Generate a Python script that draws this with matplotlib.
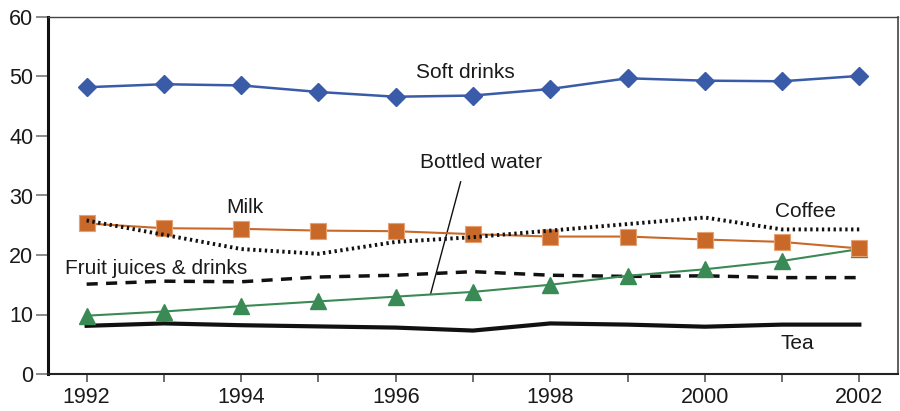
import matplotlib
matplotlib.use("Agg")
import matplotlib.pyplot as plt

plt.rcParams['font.family'] = ['Liberation Sans', 'DejaVu Sans']

years = list(range(1992, 2003))
soft_drinks = [48.2, 48.7, 48.5, 47.4, 46.6, 46.8, 47.9, 49.7, 49.3, 49.2, 50.1]
milk = [25.3, 24.5, 24.4, 24.1, 24.0, 23.5, 23.1, 23.1, 22.6, 22.2, 21.1]
coffee = [25.8, 23.4, 21.0, 20.2, 22.2, 23.0, 24.1, 25.2, 26.3, 24.3, 24.3]
fruit_juices = [15.1, 15.6, 15.5, 16.3, 16.6, 17.2, 16.6, 16.4, 16.5, 16.2, 16.2]
bottled_water = [9.8, 10.5, 11.4, 12.2, 13.0, 13.8, 15.0, 16.5, 17.6, 19.0, 21.0]
tea = [8.1, 8.5, 8.2, 8.0, 7.8, 7.3, 8.5, 8.3, 7.95, 8.3, 8.3]

yticks = [0, 10, 20, 30, 40, 50, 60]
xticks_labeled = [1992, 1994, 1996, 1998, 2000, 2002]

fig = plt.figure(figsize=(9, 4.11), dpi=100)
ax = fig.add_axes([48/900, 1-374/411, (898-48)/900, (374-17)/411])

ax.plot(years, tea, color='#111111', lw=3.0, zorder=3)
ax.plot(years, fruit_juices, color='#111111', lw=2.5, ls=(0, (3.2, 2.4)), zorder=3)
ax.plot(years, bottled_water, color='#3a8a55', lw=1.5, marker='^', ms=11,
        mec='#3a8a55', mfc='#3a8a55', zorder=4)
ax.plot(years, milk, color='#c8692a', lw=1.5, marker='s', ms=11.5,
        mec='#e8a070', mew=0.8, mfc='#c8692a', zorder=4)
ax.plot(years, coffee, color='#111111', lw=2.8, ls=(0, (0.6, 0.9)), zorder=5)
ax.plot(years, soft_drinks, color='#3a5ba8', lw=1.8, marker='D', ms=9,
        mec='#3a5ba8', mfc='#3a5ba8', zorder=4)

ax.set_xlim(1991.5, 2002.5)
ax.set_ylim(0, 60)
ax.set_yticks(yticks)
ax.set_yticklabels([str(v) for v in yticks])
ax.set_xticks(years)
ax.set_xticklabels([str(y) if y in xticks_labeled else '' for y in years])

ax.tick_params(axis='y', direction='out', length=9, width=1.2, color='#777777',
               labelsize=15.5, pad=1.5, labelcolor='#1a1a1a')
ax.tick_params(axis='x', direction='out', length=6, width=1.2, color='#555555',
               labelsize=15.5, pad=3, labelcolor='#1a1a1a')

ax.spines['left'].set_linewidth(2.2)
ax.spines['left'].set_color('#111111')
ax.spines['bottom'].set_linewidth(1.5)
ax.spines['bottom'].set_color('#222222')
ax.spines['top'].set_linewidth(1.0)
ax.spines['top'].set_color('#444444')
ax.spines['right'].set_linewidth(1.2)
ax.spines['right'].set_color('#444444')

fs = 15
ax.text(1996.9, 50.6, 'Soft drinks', fontsize=fs, ha='center', va='center', color='#1a1a1a')
ax.text(1994.05, 28.0, 'Milk', fontsize=fs, ha='center', va='center', color='#1a1a1a')
ax.text(1997.1, 35.5, 'Bottled water', fontsize=fs, ha='center', va='center', color='#1a1a1a')
ax.text(2001.3, 27.3, 'Coffee', fontsize=fs, ha='center', va='center', color='#1a1a1a')
ax.text(1992.9, 17.8, 'Fruit juices & drinks', fontsize=fs, ha='center', va='center', color='#1a1a1a')
ax.text(2001.2, 5.1, 'Tea', fontsize=fs, ha='center', va='center', color='#1a1a1a')
ax.plot([1996.45, 1996.84], [13.4, 32.3], color='#111111', lw=1.0, zorder=2)

fig.savefig('out.png', dpi=100)
